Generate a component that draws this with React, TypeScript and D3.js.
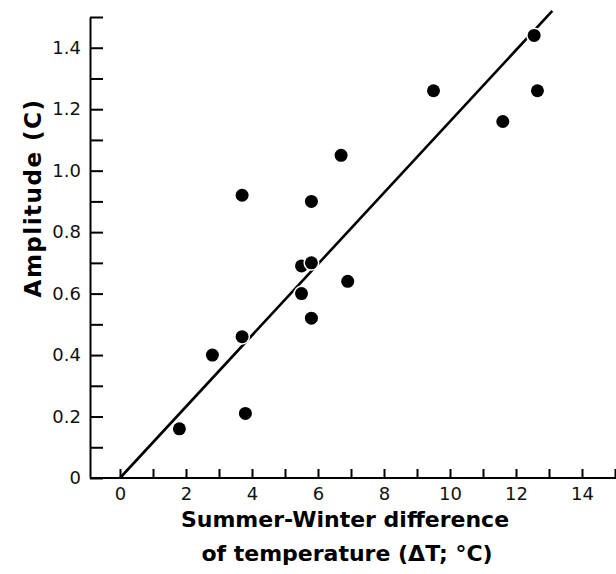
import { useEffect, useRef } from 'react'
import * as d3 from 'd3'

// temperature difference (°C) and amplitude (C) for each station
const deltaT = [1.8, 2.8, 3.7, 3.8, 3.7, 5.5, 5.5, 5.8, 5.8, 5.8, 6.9, 6.7, 9.5, 11.6, 12.55, 12.65]
const amplitude = [0.16, 0.40, 0.46, 0.21, 0.92, 0.60, 0.69, 0.70, 0.52, 0.90, 0.64, 1.05, 1.26, 1.16, 1.44, 1.26]

// fitted line end points
const fitX = [0, 13.1]
const fitY = [0, 1.52]

const yTicks = d3.range(0, 16).map((i) => i / 10)
const xTicks = d3.range(0, 16)

const FONT = '"DejaVu Sans", sans-serif'

export default function App() {
  const ref = useRef<SVGSVGElement | null>(null)

  useEffect(() => {
    const svg = d3.select(ref.current)
    svg.selectAll('*').remove()

    const x = d3.scaleLinear().domain([0, 15]).range([120, 615])
    const y = d3.scaleLinear().domain([0, 1.5]).range([478, 17])

    // * axes
    const yAxis = svg
      .append('g')
      .attr('transform', `translate(90,0)`)
      .call(
        d3
          .axisLeft(y)
          .tickValues(yTicks)
          .tickSizeInner(-13)
          .tickSizeOuter(0)
          .tickPadding(9)
          .tickFormat((d) => {
            const v = Math.round(+d * 10)
            if (v % 2 !== 0 || v > 14) return ''
            return v === 0 ? '0' : (v / 10).toFixed(1)
          }),
      )
    yAxis.select('.domain').attr('stroke-width', 2)
    yAxis.selectAll('.tick line').attr('stroke-width', 2)
    yAxis.selectAll('.tick text').attr('font-size', 18).attr('font-family', FONT).attr('fill', '#111')

    const xAxis = svg
      .append('g')
      .attr('transform', `translate(0,478)`)
      .call(
        d3
          .axisBottom(x)
          .tickValues(xTicks)
          .tickSizeInner(-9)
          .tickSizeOuter(0)
          .tickPadding(9)
          .tickFormat((d) => (+d % 2 === 0 && +d < 15 ? String(d) : '')),
      )
    xAxis.select('.domain').remove()
    xAxis.selectAll('.tick line').attr('stroke-width', 2)
    xAxis.selectAll('.tick text').attr('font-size', 18).attr('font-family', FONT).attr('fill', '#111')
    svg
      .append('line')
      .attr('x1', 90)
      .attr('x2', 616)
      .attr('y1', 478)
      .attr('y2', 478)
      .attr('stroke', '#000')
      .attr('stroke-width', 2)

    // * fit line
    svg
      .append('line')
      .attr('x1', x(fitX[0]))
      .attr('y1', y(fitY[0]))
      .attr('x2', x(fitX[1]))
      .attr('y2', y(fitY[1]))
      .attr('stroke', '#000')
      .attr('stroke-width', 2.6)

    // * points
    svg
      .append('g')
      .selectAll('circle')
      .data(deltaT)
      .enter()
      .append('circle')
      .attr('cx', (d) => x(d))
      .attr('cy', (d, i) => y(amplitude[i]))
      .attr('r', 6.5)
      .attr('fill', '#000')
      .attr('stroke', '#fff')
      .attr('stroke-width', 3)
      .attr('paint-order', 'stroke')

    // * titles
    svg
      .append('text')
      .attr('transform', `translate(41,198) rotate(-90)`)
      .attr('text-anchor', 'middle')
      .attr('font-family', FONT)
      .attr('font-weight', 'bold')
      .attr('font-size', 23)
      .attr('letter-spacing', 1.5)
      .text('Amplitude (C)')

    const title = svg
      .append('text')
      .attr('text-anchor', 'middle')
      .attr('font-family', FONT)
      .attr('font-weight', 'bold')
      .attr('font-size', 22)
    title.append('tspan').attr('x', 345).attr('y', 527).text('Summer-Winter difference')
    title.append('tspan').attr('x', 347).attr('y', 561).text('of  temperature (ΔT; °C)')
  }, [])

  return (
    <svg
      ref={ref}
      width={616}
      height={574}
      style={{ position: 'absolute', left: 0, top: 0, background: '#fff' }}
    />
  )
}
